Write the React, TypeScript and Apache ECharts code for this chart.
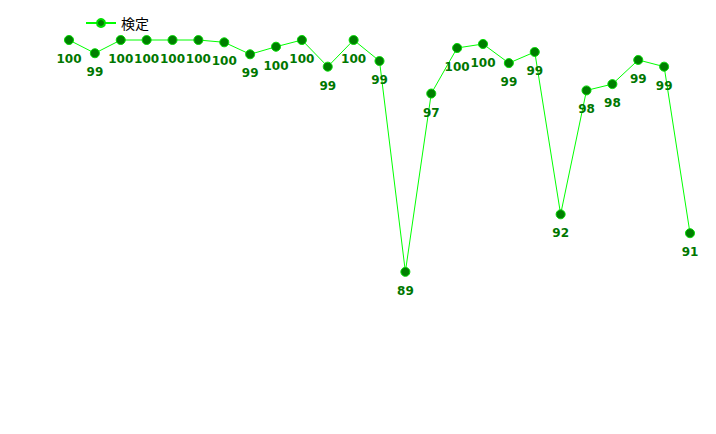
import React, { useEffect, useRef } from "react";
import * as echarts from "echarts";

const categories = [
  "1", "2", "3", "4", "5", "6", "7", "8", "9", "10", "11", "12", "13",
  "14", "15", "16", "17", "18", "19", "20", "21", "22", "23", "24", "25",
];
const seriesName = "検定";
const values = [
  100, 99.37, 100, 100, 100, 100, 99.89, 99.32, 99.68, 100, 98.73, 100, 99.0,
  88.96, 97.45, 99.62, 99.81, 98.9, 99.43, 91.7, 97.6, 97.9, 99.05, 98.73, 90.8,
];

export default function App() {
  const ref = useRef<HTMLDivElement>(null);
  useEffect(() => {
    if (!ref.current) return;
    const chart = echarts.init(ref.current, undefined, { renderer: "svg" });
    chart.setOption({
      animation: false,
      backgroundColor: "#ffffff",
      legend: {
        show: true,
        left: 72,
        top: 2,
        itemWidth: 30,
        itemHeight: 10,
        itemGap: 10,
        textStyle: {
          fontSize: 14,
          lineHeight: 16,
          color: "#000000",
          fontFamily: "Noto Sans CJK JP",
        },
        data: [seriesName],
      },
      grid: { left: 61, right: 18, top: 11, bottom: 8, containLabel: false },
      xAxis: {
        type: "category",
        data: categories,
        boundaryGap: false,
        show: false,
      },
      yAxis: {
        type: "value",
        min: 82,
        max: 101,
        show: false,
      },
      series: [
        {
          name: seriesName,
          type: "line",
          data: values,
          symbol: "circle",
          symbolSize: 9,
          itemStyle: { color: "#007f00", borderColor: "#00dd00", borderWidth: 1 },
          lineStyle: { color: "#00ff00", width: 1 },
          label: {
            show: true,
            position: "bottom",
            distance: 8,
            color: "#007700",
            fontSize: 12,
            fontWeight: "bold",
            fontFamily: "DejaVu Sans",
            formatter: (p: any) => String(Math.round(p.value)),
          },
        },
      ],
    });
    return () => chart.dispose();
  }, []);
  return <div ref={ref} style={{ width: 700, height: 418 }} />;
}
